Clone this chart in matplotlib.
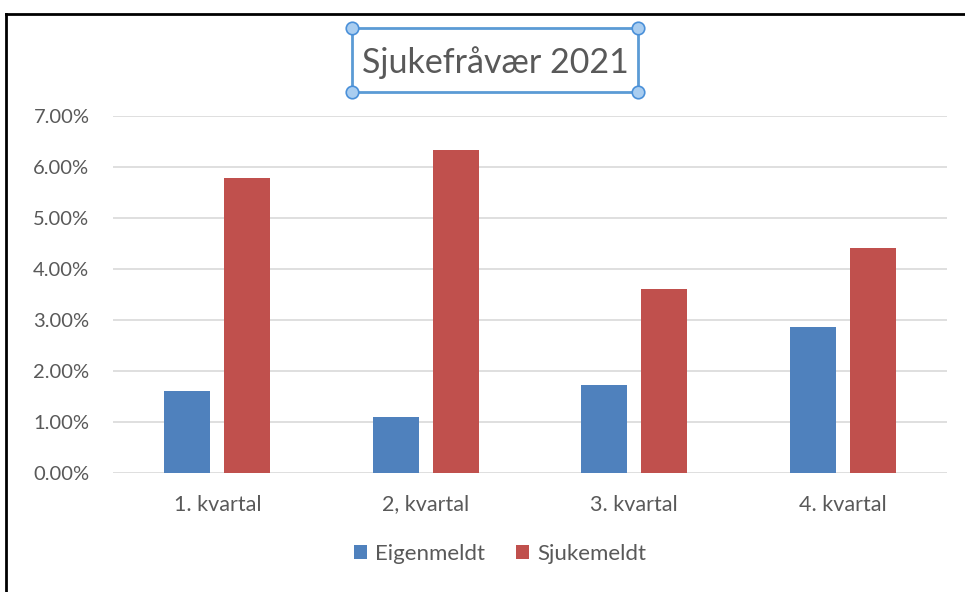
import matplotlib
matplotlib.use("Agg")
import matplotlib.pyplot as plt
from matplotlib.patches import Rectangle
from matplotlib.lines import Line2D
import numpy as np

categories = ["1. kvartal", "2, kvartal", "3. kvartal", "4. kvartal"]
eigenmeldt = [0.0161, 0.0110, 0.0173, 0.0286]
sjukemeldt = [0.0578, 0.0633, 0.0361, 0.0441]
yticks = [0.0, 0.01, 0.02, 0.03, 0.04, 0.05, 0.06, 0.07]

blue = "#4f81bd"
red = "#c0504d"
grey = "#595959"

plt.rcParams['font.family'] = ['Lato', 'DejaVu Sans']

fig = plt.figure(figsize=(9.65, 5.92), dpi=100)
ax = fig.add_axes([113 / 965, 1 - 473 / 592, 834 / 965, 357 / 592])

x = np.arange(len(categories))
w = 0.22
off = 0.144
ax.bar(x - off, eigenmeldt, w, color=blue, label="Eigenmeldt", zorder=3)
ax.bar(x + off, sjukemeldt, w, color=red, label="Sjukemeldt", zorder=3)

ax.set_xlim(-0.5, len(categories) - 0.5)
ax.set_ylim(0, 0.07)
ax.set_yticks(yticks)
ax.set_yticklabels(["%.2f%%" % (v * 100) for v in yticks])
ax.set_xticks(x)
ax.set_xticklabels(categories)
ax.tick_params(axis='both', length=0, colors=grey)
ax.tick_params(axis='y', pad=17, labelsize=14.5)
ax.tick_params(axis='x', pad=15.5, labelsize=15.5)
ax.grid(axis='y', color="#d9d9d9", linewidth=1.2, zorder=0)
for s in ax.spines.values():
    s.set_visible(False)

leg = fig.legend(loc='center', bbox_to_anchor=(500 / 965, 1 - 554 / 592), ncol=2,
                 frameon=False, fontsize=16, handlelength=0.6, handleheight=0.6,
                 handletextpad=0.35, columnspacing=1.4)
for t in leg.get_texts():
    t.set_color(grey)

# title with selection box
fig.text(495 / 965, 1 - 63 / 592, "Sjukefråvær 2021", ha='center', va='center',
         fontsize=24.5, color=grey)
x0, x1 = 352 / 965, 638 / 965
y0, y1 = 1 - 92 / 592, 1 - 28 / 592
fig.patches.append(Rectangle((x0, y0), x1 - x0, y1 - y0, transform=fig.transFigure,
                             fill=False, edgecolor="#5b9bd5", linewidth=2))
for cx in (x0, x1):
    for cy in (y0, y1):
        fig.add_artist(Line2D([cx], [cy], marker='o', markersize=9,
                              markerfacecolor="#a9cdf0", markeredgecolor="#4a90d9",
                              markeredgewidth=1.2, transform=fig.transFigure))

# outer frame (top and left)
fig.add_artist(Line2D([6 / 965, 1], [1 - 14 / 592, 1 - 14 / 592], color="black",
                      linewidth=2, transform=fig.transFigure))
fig.add_artist(Line2D([6 / 965, 6 / 965], [0, 1 - 14 / 592], color="black",
                      linewidth=2, transform=fig.transFigure))

fig.savefig("out.png", dpi=100)
